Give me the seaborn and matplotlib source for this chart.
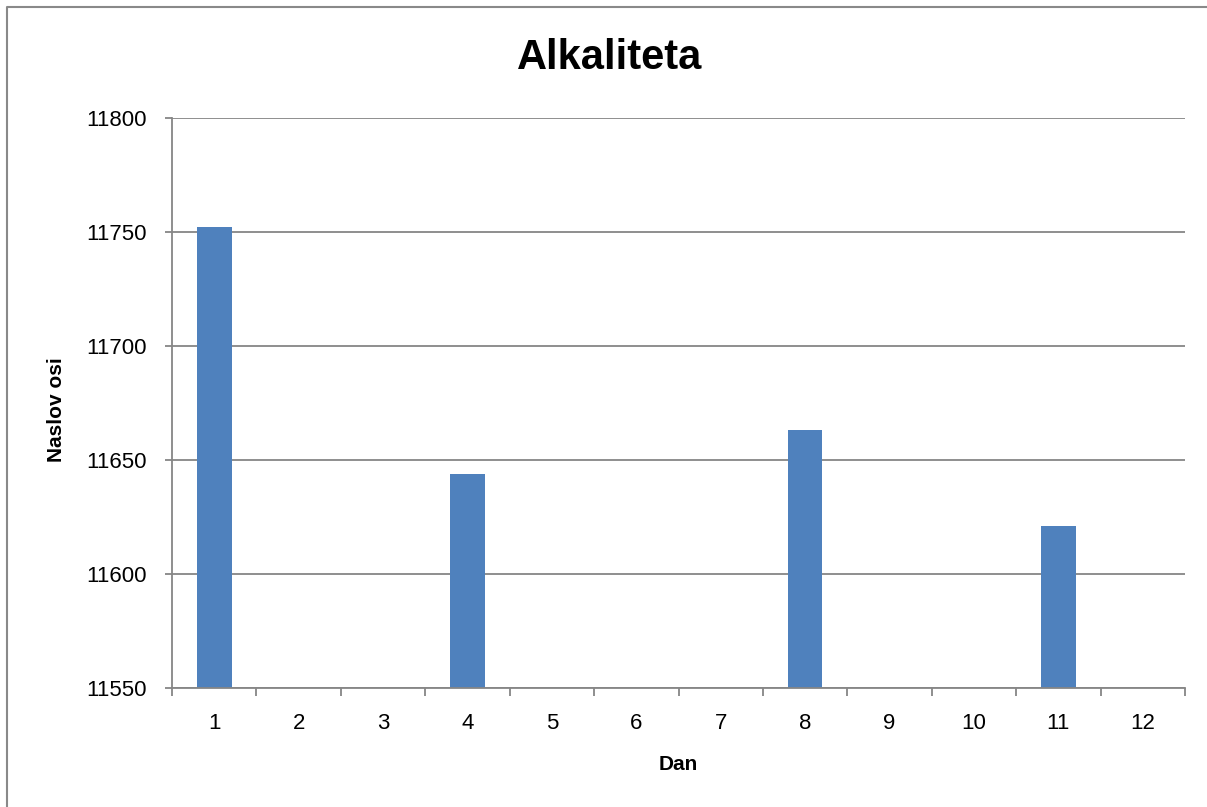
import numpy as np
import pandas as pd
import matplotlib
matplotlib.use("Agg")
import matplotlib.pyplot as plt
from matplotlib.lines import Line2D
from matplotlib.ticker import FixedLocator
import seaborn as sns

# Daily alkalinity measurements (only some days were sampled)
days = ["1", "2", "3", "4", "5", "6", "7", "8", "9", "10", "11", "12"]
alkalinity = [11752, np.nan, np.nan, 11644, np.nan, np.nan, np.nan, 11663,
              np.nan, np.nan, 11621, np.nan]
y_ticks = [11550, 11600, 11650, 11700, 11750, 11800]

title_text = "Alkaliteta"
x_label = "Dan"
y_label = "Naslov osi"

sns.set_theme(style="white")
plt.rcParams["font.family"] = ["Liberation Sans", "DejaVu Sans"]
plt.rcParams["text.color"] = "black"
plt.rcParams["xtick.color"] = "black"
plt.rcParams["ytick.color"] = "black"

W, H = 1207, 807
fig = plt.figure(figsize=(W / 100, H / 100), dpi=100)
ax = fig.add_axes([172 / W, 1 - 688 / H, (1185 - 172) / W, (688 - 118) / H])

df = pd.DataFrame({"day": days, "value": alkalinity})
sns.barplot(data=df, x="day", y="value", order=days, color="#4F81BD",
            saturation=1, width=0.41, ax=ax, edgecolor="none")

grid_c = "#868686"
ax.set_ylim(y_ticks[0], y_ticks[-1])
ax.set_xlim(-0.5, len(days) - 0.5)
ax.set_yticks(y_ticks)
ax.set_yticklabels([str(v) for v in y_ticks], fontsize=16, color="black")
ax.yaxis.grid(True, color=grid_c, linewidth=1.3)
ax.xaxis.grid(False)
ax.set_axisbelow(True)

# category labels centred, tick marks between categories
ax.set_xticks(range(len(days)))
ax.set_xticklabels(days, fontsize=16, color="black")
ax.xaxis.set_minor_locator(FixedLocator(np.arange(-0.5, len(days), 1.0)))
ax.tick_params(axis="x", which="major", length=0, pad=18)
ax.tick_params(axis="x", which="minor", length=5.5, width=1.3, color=grid_c,
               direction="out", bottom=True)
ax.tick_params(axis="y", which="major", length=5, width=1.3, color=grid_c,
               direction="out", left=True, pad=13)

for side in ["top", "right"]:
    ax.spines[side].set_visible(False)
for side in ["left", "bottom"]:
    ax.spines[side].set_color(grid_c)
    ax.spines[side].set_linewidth(1.3)

ax.set_xlabel("")
ax.set_ylabel("")
fig.text(678 / W, 1 - 765 / H, x_label, ha="center", va="center",
         fontsize=15, fontweight="bold", color="black")
fig.text(57 / W, 1 - 410 / H, y_label, ha="center", va="center",
         rotation=90, fontsize=15, fontweight="bold", color="black")
fig.text(610 / W, 1 - 69 / H, title_text, ha="center", va="baseline",
         fontsize=30, fontweight="bold", color="black")

# chart-area frame: only the left and top edges lie on the canvas
x0, y0 = 6.5 / W, 1 - 6.5 / H
fig.add_artist(Line2D([x0, x0, 1.0], [0.0, y0, y0], transform=fig.transFigure,
                      color="#898989", linewidth=1.5))

fig.savefig("out.png", dpi=100)
